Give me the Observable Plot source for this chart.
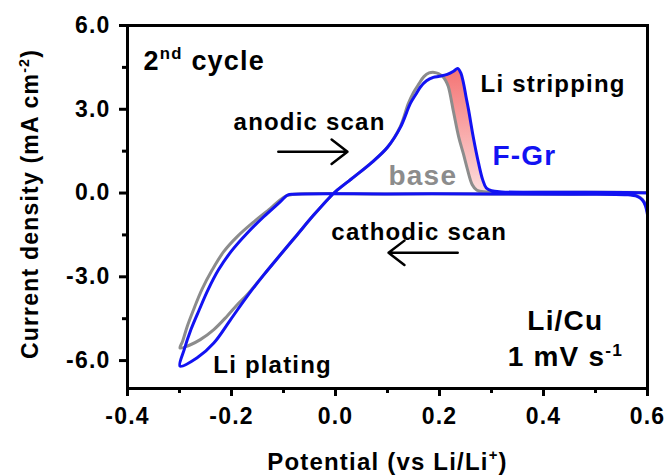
<!DOCTYPE html>
<html><head><meta charset="utf-8">
<script src="https://cdn.jsdelivr.net/npm/d3@7"></script>
<script src="https://cdn.jsdelivr.net/npm/@observablehq/plot@0.6"></script>
<style>body{margin:0;background:#fff} #chart svg{display:block}</style>
</head><body><div id="chart"></div>
<script>
// ---- axis ticks ----
const xTicks = [-0.4, -0.2, 0.0, 0.2, 0.4, 0.6];
const xMinorTicks = [-0.3, -0.1, 0.1, 0.3, 0.5];
const yTicks = [-6, -3, 0, 3, 6];
const yMinorTicks = [-4.5, -1.5, 1.5, 4.5];

// ---- F-Gr CV (2nd cycle), in scan order starting at 0.6 V (cathodic) ----
const fgrX = [0.600,0.596,0.590,0.580,0.560,0.450,0.300,0.100,-0.080,-0.092,
  -0.106,-0.138,-0.170,-0.201,-0.225,-0.245,-0.262,-0.278,-0.291,-0.299,
  -0.266,-0.234,-0.202,-0.170,-0.138,-0.106,-0.074,-0.042,-0.010,
  0.000,0.035,0.070,0.100,0.125,0.144,0.155,0.163,0.175,0.188,0.200,0.215,0.227,0.235,
  0.241,0.246,0.251,0.256,0.265,0.275,0.283,0.290,0.300,0.320,0.450,0.560,0.600];
const fgrY = [-0.78,-0.45,-0.25,-0.12,-0.06,-0.04,-0.03,-0.03,-0.04,-0.07,
  -0.31,-0.85,-1.44,-2.10,-2.75,-3.46,-4.18,-4.89,-5.61,-6.20,
  -5.90,-5.37,-4.54,-3.70,-2.93,-2.21,-1.50,-0.79,-0.13,
  0.05,0.57,1.10,1.64,2.36,3.21,3.55,3.79,4.02,4.14,4.18,4.25,4.36,4.46,
  4.30,3.95,3.45,2.97,2.00,1.08,0.48,0.18,0.08,0.04,0.03,0.02,0.00];

// ---- base CV (2nd cycle) ----
const baseX = [0.600,0.596,0.590,0.580,0.560,0.450,0.300,0.100,-0.080,-0.095,
  -0.110,-0.125,-0.157,-0.189,-0.215,-0.237,-0.257,-0.273,-0.285,-0.294,-0.299,
  -0.282,-0.260,-0.234,-0.209,-0.189,-0.170,-0.138,-0.106,-0.074,-0.042,-0.010,
  0.000,0.035,0.070,0.100,0.125,0.140,0.150,0.160,0.170,0.180,0.190,0.198,
  0.206,0.212,0.217,0.227,0.237,0.246,0.254,0.263,0.272,0.290,0.450,0.600];
const baseY = [-0.70,-0.40,-0.22,-0.10,-0.05,-0.04,-0.03,-0.03,-0.04,-0.10,
  -0.30,-0.55,-1.03,-1.56,-2.10,-2.75,-3.46,-4.18,-4.77,-5.31,-5.55,
  -5.46,-5.25,-4.89,-4.42,-4.00,-3.64,-2.93,-2.21,-1.50,-0.79,-0.13,
  0.05,0.57,1.10,1.64,2.40,3.20,3.60,3.90,4.17,4.30,4.32,4.28,
  4.18,4.02,3.81,2.90,2.00,1.40,0.83,0.30,0.10,0.04,0.03,0.02];

// ---- annotations ----
const noteText  = ["2^{nd} cycle", "anodic scan", "Li stripping", "F-Gr", "base", "cathodic scan", "Li/Cu", "1 mV s^{-1}", "Li plating"];
const noteX     = [-0.369, -0.196, 0.279, 0.302, 0.102, -0.008, 0.442, 0.442, -0.235];
const noteY     = [4.42, 2.27, 3.63, 1.01, 0.30, -1.67, -4.90, -6.21, -6.43];
const arrowX1 = [-0.110, 0.235];
const arrowX2 = [0.023, 0.102];
const arrowY  = [1.48, -2.14];

const BLUE = "#1212f2", GRAY = "#8c8c8c";
const noteStyle = [
  {size: 27, color: "#000", anchor: "start"},
  {size: 24, color: "#000", anchor: "start"},
  {size: 24, color: "#000", anchor: "start"},
  {size: 28, color: BLUE, anchor: "start"},
  {size: 28, color: GRAY, anchor: "start"},
  {size: 24, color: "#000", anchor: "start"},
  {size: 28, color: "#000", anchor: "middle"},
  {size: 28, color: "#000", anchor: "middle"},
  {size: 24, color: "#000", anchor: "start"}
];

const fgr = fgrX.map((x, i) => ({x, y: fgrY[i]}));
const base = baseX.map((x, i) => ({x, y: baseY[i]}));

// shaded region between base and F-Gr stripping branches
const iPk = d3.maxIndex(fgr, d => d.y);
const iStart = fgr.findIndex((d, i) => i > 30 && d.x >= 0.2);
const blueSeg = fgr.slice(iStart).filter((d, k) => k + iStart <= iPk || d.x <= 0.300);
const bPk = d3.maxIndex(base, d => d.y);
const graySeg = base.filter((d, i) => i > bPk && d.x >= 0.206 && d.x <= 0.272).reverse();
const pink = blueSeg.concat(graySeg);

const arrows = arrowX1.map((x1, i) => ({x1, x2: arrowX2[i], y: arrowY[i]}));
const CURVE = "catmull-rom";

const marks = [
  Plot.line(pink, {x: "x", y: "y", fill: "url(#pinkFill)", stroke: "none", curve: CURVE}),
  Plot.line(base, {x: "x", y: "y", stroke: GRAY, strokeWidth: 3, strokeLinejoin: "round", curve: CURVE}),
  Plot.line(fgr, {x: "x", y: "y", stroke: BLUE, strokeWidth: 3, strokeLinejoin: "round", curve: CURVE}),
  Plot.axisX({ticks: xTicks, tickSize: 8, tickPadding: 11, tickFormat: d => d.toFixed(1), strokeWidth: 3, fontSize: 23, label: null}),
  Plot.axisX({ticks: xMinorTicks, tickSize: 5, tickFormat: () => "", strokeWidth: 3, label: null}),
  Plot.axisY({ticks: yTicks, tickSize: 8, tickPadding: 9, tickFormat: d => d.toFixed(1), strokeWidth: 3, fontSize: 23, label: null}),
  Plot.axisY({ticks: yMinorTicks, tickSize: 5, tickFormat: () => "", strokeWidth: 3, label: null}),
  Plot.frame({strokeWidth: 3}),
  Plot.arrow(arrows, {x1: "x1", x2: "x2", y1: "y", y2: "y", stroke: "#000", strokeWidth: 2.5, headLength: 12, headAngle: 75}),
  Plot.text(["Potential (vs Li/Li^{+})"], {frameAnchor: "bottom", dy: 81, lineAnchor: "bottom", textAnchor: "middle", fontSize: 24}),
  Plot.text(["Current density (mA cm^{-2})"], {frameAnchor: "left", rotate: -90, dx: -90, dy: -3, lineAnchor: "bottom", textAnchor: "middle", fontSize: 23})
];
noteText.forEach((t, i) => {
  const s = noteStyle[i];
  marks.push(Plot.text([{t, x: noteX[i], y: noteY[i]}], {x: "x", y: "y", text: "t", fill: s.color, fontSize: s.size, textAnchor: s.anchor, lineAnchor: "bottom"}));
});

const svg = Plot.plot({
  width: 669, height: 476,
  marginLeft: 127, marginRight: 22, marginTop: 25, marginBottom: 88,
  x: {domain: [-0.4, 0.6], label: null},
  y: {domain: [-7, 6], label: null},
  style: {fontFamily: "'Liberation Sans', Arial, sans-serif", fontWeight: "bold", letterSpacing: "1.2px", color: "#000", background: "#fff", overflow: "visible"},
  marks
});

// gradient for shaded region
const defs = d3.select(svg).insert("defs", ":first-child");
const grad = defs.append("linearGradient").attr("id", "pinkFill").attr("x1", 0).attr("y1", 0).attr("x2", 0).attr("y2", 1);
grad.append("stop").attr("offset", "0%").attr("stop-color", "#f47474");
grad.append("stop").attr("offset", "100%").attr("stop-color", "#fddcdc");

// superscripts: "^{...}"
const NS = "http://www.w3.org/2000/svg";
svg.querySelectorAll("text").forEach(t => {
  const s = t.textContent;
  if (!s.includes("^{")) return;
  t.textContent = "";
  const parts = s.split(/(\^\{[^}]*\})/).filter(p => p.length);
  let raised = false;
  parts.forEach(p => {
    const ts = document.createElementNS(NS, "tspan");
    if (p.startsWith("^{")) {
      ts.textContent = p.slice(2, -1);
      ts.setAttribute("font-size", "62%");
      ts.setAttribute("dy", "-0.62em");
      raised = true;
    } else {
      ts.textContent = p;
      if (raised) { ts.setAttribute("dy", "0.384em"); raised = false; }
    }
    t.appendChild(ts);
  });
});

document.getElementById("chart").appendChild(svg);
</script>
</body></html>
